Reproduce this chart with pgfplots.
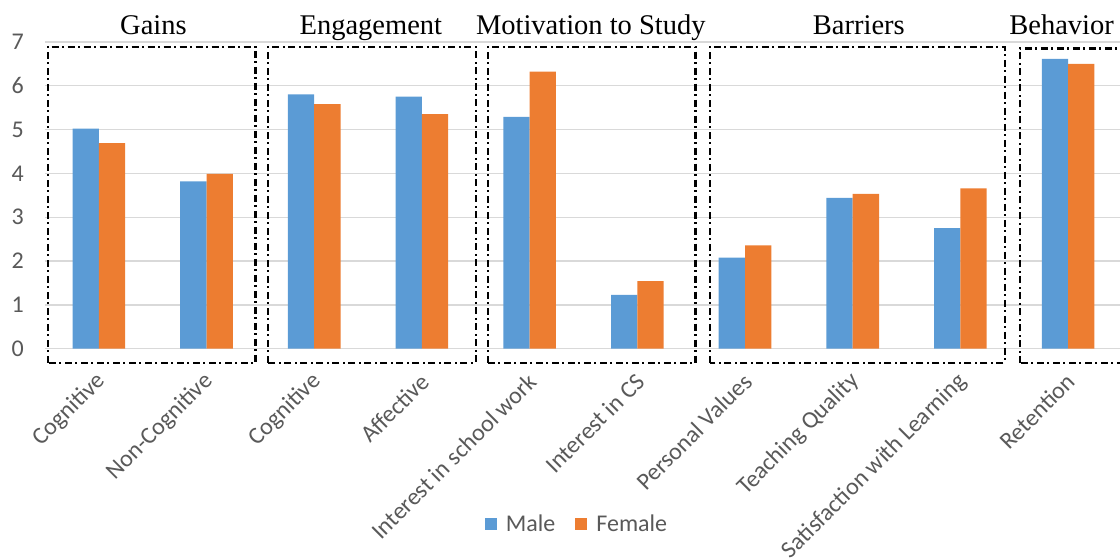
\documentclass[border=0pt]{standalone}
\usepackage{fontspec}
\setmainfont{Liberation Serif}
\newfontfamily\calib{Carlito}
\usepackage{pgfplots}
\pgfplotsset{compat=1.18}
\definecolor{mblue}{HTML}{5B9BD5}
\definecolor{forange}{HTML}{ED7D31}
\definecolor{tgray}{HTML}{595959}
\definecolor{ggray}{HTML}{D9D9D9}
\begin{document}
\begin{tikzpicture}
\useasboundingbox (0,0) rectangle (1120pt,560pt);
\begin{axis}[
 at={(45pt,211.3pt)}, anchor=south west,
 scale only axis, width=1077pt, height=306.8pt,
 xmin=-0.5, xmax=9.5, ymin=0, ymax=7,
 ybar=0pt, bar width=26.3pt,
 axis line style={draw=none},
 major tick length=0pt,
 ytick={0,...,7},
 ymajorgrids, grid style={ggray, line width=1.3pt},
 xtick={0,...,9},
 xticklabels={Cognitive,Non-Cognitive,Cognitive,Affective,Interest in school work,Interest in CS,Personal Values,Teaching Quality,Satisfaction with Learning,Retention},
 tick label style={font=\calib\fontsize{24}{26}\selectfont, text=tgray},
 /pgf/number format/assume math mode=true,
 yticklabel style={anchor=east, inner sep=0pt, xshift=-21pt},
 xticklabel style={yshift=-29pt, xshift=3pt, rotate=45, anchor=east, inner sep=0pt},
 clip=false,
 legend style={at={(0.494,-0.571)}, anchor=center, draw=none, fill=none, legend columns=2,
   font=\calib\fontsize{24}{26}\selectfont, text=tgray,
   /tikz/every odd column/.append style={column sep=7pt},
   /tikz/every even column/.append style={column sep=18pt}},
 legend image code/.code={\fill[#1] (0pt,-6pt) rectangle (12pt,6pt);},
]
\addplot[fill=mblue, draw=none] coordinates {(0,5.02) (1,3.82) (2,5.80) (3,5.75) (4,5.29) (5,1.23) (6,2.08) (7,3.44) (8,2.75) (9,6.61)};
\addplot[fill=forange, draw=none] coordinates {(0,4.69) (1,3.99) (2,5.58) (3,5.35) (4,6.32) (5,1.54) (6,2.36) (7,3.53) (8,3.66) (9,6.50)};
\legend{Male, Female}
\tikzset{bx/.style={black, line width=2.1pt, dash pattern=on 7pt off 3.5pt on 2pt off 3.5pt}}
\draw[bx] (axis cs:-0.476,-0.32) rectangle (axis cs:1.455,6.89);
\draw[bx] (axis cs:1.574,-0.32) rectangle (axis cs:3.50,6.89);
\draw[bx] (axis cs:3.617,-0.32) rectangle (axis cs:5.54,6.89);
\draw[bx] (axis cs:5.673,-0.32) rectangle (axis cs:8.41,6.89);
\draw[bx] (axis cs:8.55,-0.33) rectangle (axis cs:9.75,6.85);
\tikzset{tt/.style={font=\fontsize{28.5}{30}\selectfont, anchor=base, inner sep=0pt}}
\node[tt] at (axis cs:0.507,7.16) {Gains};
\node[tt] at (axis cs:2.526,7.16) {Engagement};
\node[tt] at (axis cs:4.568,7.16) {Motivation to Study};
\node[tt] at (axis cs:7.057,7.16) {Barriers};
\node[tt] at (axis cs:8.94,7.16) {Behavior};
\end{axis}
\end{tikzpicture}
\end{document}
